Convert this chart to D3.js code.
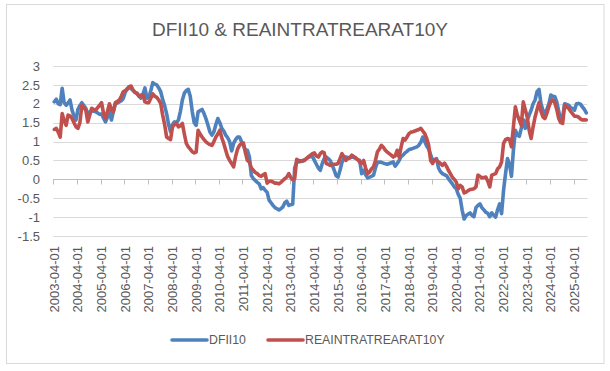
<!DOCTYPE html>
<html>
<head>
<meta charset="utf-8">
<script src="https://cdn.jsdelivr.net/npm/d3@7"></script>
<style>
  body { margin: 0; background: #fff; }
  text { font-family: "Liberation Sans", Arial, sans-serif; fill: #595959; }
</style>
</head>
<body>
<svg id="chart"></svg>
<script>
// monthly series, first month 2003-04, 12 values per line (Apr..Mar)
const dfii10 = [
  2.05, 2.12, 2.0, 1.98, 2.41, 2.03, 1.96, 2.02, 2.1, 1.83, 1.68, 1.57,
  1.85, 1.95, 2.03, 1.95, 1.88, 1.74, 1.78, 1.83, 1.8, 1.79, 1.76, 1.72,
  1.73, 1.62, 1.52, 1.65, 1.79, 1.57, 1.8, 2.0, 2.02, 2.05, 2.08, 2.14,
  2.3, 2.4, 2.45, 2.4, 2.35, 2.3, 2.28, 2.2, 2.15, 2.25, 2.42, 2.15,
  2.18, 2.35, 2.56, 2.52, 2.5, 2.42, 2.32, 2.12, 1.95, 1.74, 1.45, 1.26,
  1.45, 1.52, 1.5, 1.57, 1.8, 2.1, 2.28, 2.35, 2.38, 2.2, 1.8, 1.5,
  1.43, 1.79, 1.82, 1.85, 1.74, 1.6, 1.43, 1.25, 1.17, 1.26, 1.45, 1.61,
  1.5, 1.35, 1.28, 1.17, 1.1, 1.0, 0.75, 0.95, 1.05, 1.12, 1.12, 1.0,
  0.9, 0.77, 0.77, 0.6, 0.1, 0.02, -0.03, -0.08, -0.12, -0.25, -0.22, -0.29,
  -0.34, -0.55, -0.62, -0.69, -0.75, -0.78, -0.81, -0.78, -0.73, -0.62, -0.58, -0.69,
  -0.67, -0.66, 0.3, 0.46, 0.46, 0.47, 0.48, 0.52, 0.55, 0.58, 0.6, 0.61,
  0.5, 0.4, 0.3, 0.24, 0.42, 0.55, 0.59, 0.55, 0.5, 0.38, 0.25, 0.1,
  0.06, 0.24, 0.45, 0.55, 0.59, 0.58, 0.57, 0.59, 0.58, 0.55, 0.52, 0.5,
  0.15, 0.24, 0.12, 0.04, 0.06, 0.08, 0.11, 0.3, 0.45, 0.46, 0.45, 0.43,
  0.41, 0.4, 0.42, 0.44, 0.46, 0.35, 0.42, 0.5, 0.6, 0.64, 0.7, 0.74,
  0.79, 0.8, 0.82, 0.84, 0.86, 0.9, 0.98, 1.12, 1.0, 0.88, 0.8, 0.65,
  0.5, 0.52, 0.55, 0.3, 0.2, 0.15, 0.12, 0.1, 0.02, -0.05, -0.12, -0.2,
  -0.25, -0.4, -0.5, -0.82, -1.05, -0.96, -0.92, -0.89, -0.95, -0.99, -0.75, -0.69,
  -0.65, -0.75, -0.81, -0.87, -0.9, -0.99, -0.89, -0.95, -1.0, -0.8, -0.65, -0.91,
  -0.29, 0.15, 0.55, 0.4, 0.08, 0.77, 1.3, 1.17, 1.14, 1.35, 1.58, 1.35,
  1.57, 1.7, 1.83, 2.0, 2.1, 2.32, 2.38, 2.0, 1.83, 1.74, 1.85, 2.0,
  2.23, 2.2, 2.19, 2.05, 1.8, 1.57, 1.65, 2.0, 1.98, 1.96, 1.9, 1.88,
  1.83, 2.0, 2.01, 1.99, 1.92, 1.85, 1.76
];

const reaintratrearat10y = [
  1.32, 1.35, 1.25, 1.12, 1.74, 1.55, 1.43, 1.7, 1.68, 1.61, 1.5, 1.39,
  1.35, 1.5, 1.96, 1.9, 1.83, 1.52, 1.7, 1.88, 1.85, 1.83, 1.9, 1.96,
  2.03, 1.74, 1.61, 1.8, 2.0, 1.85, 1.79, 2.03, 2.06, 2.1, 2.2, 2.32,
  2.35, 2.38, 2.45, 2.47, 2.36, 2.3, 2.27, 2.2, 2.23, 2.23, 2.05, 2.03,
  2.03, 2.15, 2.26, 2.2, 2.17, 2.1, 2.01, 1.7, 1.45, 1.12, 1.08, 1.05,
  1.39, 1.45, 1.48, 1.39, 1.42, 1.48, 1.2, 0.95, 0.86, 0.8, 0.73, 0.7,
  0.72, 1.3, 1.2, 1.12, 1.05, 0.99, 0.95, 0.92, 0.9, 1.0, 1.12, 1.2,
  1.3, 1.1, 0.95, 0.77, 0.6, 0.5, 0.42, 0.33, 0.6, 0.8, 0.9, 0.95,
  0.96, 0.7, 0.5, 0.46, 0.3, 0.24, 0.18, 0.15, 0.1, 0.08, 0.12, 0.15,
  -0.1, -0.05, -0.05, -0.07, -0.1, -0.1, -0.12, -0.08, -0.03, 0.02, 0.06, 0.15,
  0.05, -0.01, 0.02, 0.53, 0.5, 0.48, 0.5, 0.5, 0.55, 0.6, 0.64, 0.68,
  0.7, 0.62, 0.59, 0.68, 0.73, 0.7, 0.42, 0.4, 0.37, 0.39, 0.4, 0.4,
  0.42, 0.55, 0.68, 0.6, 0.5, 0.55, 0.57, 0.64, 0.6, 0.57, 0.52, 0.46,
  0.42, 0.5, 0.3, 0.15, 0.19, 0.28, 0.33, 0.5, 0.73, 0.8, 0.9, 0.85,
  0.77, 0.72, 0.68, 0.64, 0.59, 0.62, 0.77, 0.59, 0.85, 1.08, 1.04, 1.12,
  1.21, 1.25, 1.26, 1.28, 1.3, 1.32, 1.35, 1.28, 1.21, 1.08, 0.9, 0.5,
  0.42, 0.52, 0.5, 0.46, 0.42, 0.37, 0.43, 0.35, 0.24, 0.15, 0.06, 0.0,
  -0.07, -0.25, -0.16, -0.2, -0.36, -0.34, -0.3, -0.27, -0.26, -0.25, -0.2, 0.11,
  0.08, 0.04, 0.05, 0.06, -0.05, -0.2, 0.11, 0.13, 0.15, 0.28, 0.33, 0.46,
  0.95, 1.05, 1.08, 1.06, 0.86, 1.39, 1.92, 1.7, 1.57, 1.43, 2.05, 1.85,
  1.65, 1.3, 1.08, 1.39, 1.65, 1.85, 2.03, 1.8, 1.65, 1.61, 1.75, 1.92,
  2.05, 2.1, 2.03, 1.85, 1.61, 1.5, 1.48, 1.96, 1.92, 1.88, 1.8, 1.74,
  1.67, 1.67, 1.65, 1.6, 1.57, 1.58, 1.57
];

const yTicks = [-1.5, -1, -0.5, 0, 0.5, 1, 1.5, 2, 2.5, 3];
const seriesNames = ["DFII10", "REAINTRATREARAT10Y"];
const seriesColors = ["#4F81BD", "#C0504D"];

// category labels: one per month starting 2003-04-01
const months = d3.range(dfii10.length).map(i => {
  const d = new Date(2003, 3 + i, 1);
  return d3.timeFormat("%Y-%m-%d")(d);
});
const labelMonths = months.filter((m, i) => i % 12 === 0);

const width = 610, height = 371;
const plot = { left: 53.3, right: 587.3, top: 66, bottom: 236 };

const svg = d3.select("#chart")
  .attr("width", width)
  .attr("height", height);

svg.append("rect")
  .attr("x", 6.5).attr("y", 4.5)
  .attr("width", 597.5).attr("height", 359)
  .attr("fill", "#fff")
  .attr("stroke", "#D9D9D9");

const x = d3.scaleBand()
  .domain(months)
  .range([plot.left, plot.right])
  .padding(0);

const y = d3.scaleLinear()
  .domain([-1.5, 3])
  .range([plot.bottom, plot.top]);

// gridlines
svg.append("g")
  .selectAll("line")
  .data(yTicks)
  .join("line")
  .attr("x1", plot.left)
  .attr("x2", plot.right)
  .attr("y1", d => Math.round(y(d)) + 0.5)
  .attr("y2", d => Math.round(y(d)) + 0.5)
  .attr("stroke", "#D9D9D9");

// y axis labels
const yAxis = svg.append("g")
  .attr("transform", "translate(40,0)")
  .call(d3.axisLeft(y).tickValues(yTicks).tickSize(0).tickPadding(0)
    .tickFormat(d => d));
yAxis.select(".domain").remove();
yAxis.selectAll("text")
  .attr("font-size", 13)
  .attr("font-family", "Liberation Sans, Arial, sans-serif")
  .attr("fill", "#595959");

// category axis at zero with tick marks every 12 months
const zeroY = Math.round(y(0)) + 0.5;
svg.append("line")
  .attr("x1", plot.left).attr("x2", plot.right)
  .attr("y1", zeroY).attr("y2", zeroY)
  .attr("stroke", "#BFBFBF");

svg.append("g")
  .selectAll("line")
  .data(labelMonths)
  .join("line")
  .attr("x1", d => Math.round(x(d)) + 0.5)
  .attr("x2", d => Math.round(x(d)) + 0.5)
  .attr("y1", zeroY)
  .attr("y2", zeroY + 5)
  .attr("stroke", "#BFBFBF");

// rotated date labels below the plot
const xAxis = svg.append("g")
  .attr("transform", "translate(0,246)")
  .call(d3.axisBottom(x).tickValues(labelMonths).tickSize(0).tickPadding(0));
xAxis.select(".domain").remove();
xAxis.selectAll("text")
  .attr("font-size", 13)
  .attr("font-family", "Liberation Sans, Arial, sans-serif")
  .attr("fill", "#595959")
  .attr("text-anchor", "end")
  .attr("transform", "rotate(-90)")
  .attr("x", 0)
  .attr("y", 0)
  .attr("dy", "0.35em");

// series lines
const line = d3.line()
  .x((d, i) => x(months[i]) + x.bandwidth() / 2)
  .y(d => y(d));

[dfii10, reaintratrearat10y].forEach((values, k) => {
  svg.append("path")
    .datum(values)
    .attr("d", line)
    .attr("fill", "none")
    .attr("stroke", seriesColors[k])
    .attr("stroke-width", 3.6)
    .attr("stroke-linejoin", "round")
    .attr("stroke-linecap", "round");
});

// title
svg.append("text")
  .attr("x", 300)
  .attr("y", 36)
  .attr("text-anchor", "middle")
  .attr("font-size", 19)
  .text("DFII10 & REAINTRATREARAT10Y");

// legend
const legendX = [172, 268];
const legend = svg.append("g")
  .selectAll("g")
  .data(seriesNames)
  .join("g")
  .attr("transform", (d, i) => `translate(${legendX[i]},340)`);

legend.append("line")
  .attr("x1", 0).attr("x2", 35)
  .attr("stroke", (d, i) => seriesColors[i])
  .attr("stroke-width", 3.6)
  .attr("stroke-linecap", "round");

legend.append("text")
  .attr("x", 37)
  .attr("dy", "0.35em")
  .attr("font-size", 12.3)
  .text(d => d);
</script>
</body>
</html>
